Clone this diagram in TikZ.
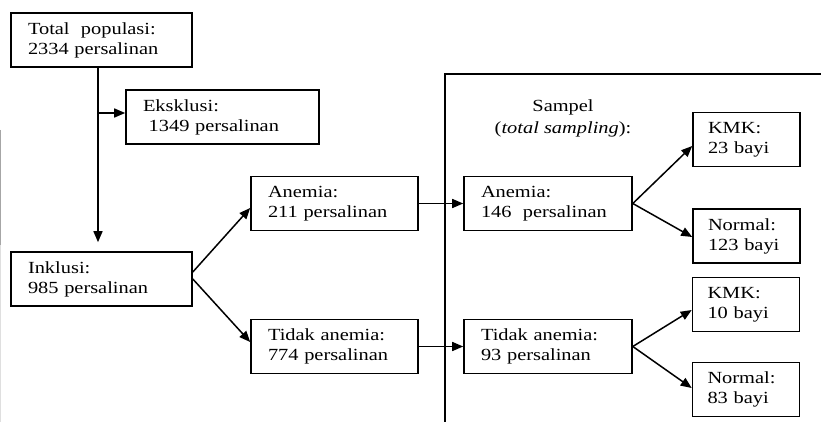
\documentclass[tikz,border=0pt]{standalone}
\usepackage{fontspec}
\setmainfont{Liberation Serif}[FakeStretch=1.2]
\usetikzlibrary{arrows.meta}
\tikzset{
  box/.style={draw, line width=1.6pt, align=left, inner xsep=17pt, inner ysep=0pt,
    minimum height=54pt, font=\fontsize{17}{20}\selectfont},
  sbox/.style={box, inner xsep=15pt, text width=77pt},
  arr/.style={line width=1.5pt, -{Triangle[length=11pt,width=9pt]}},
  frame/.style={line width=1.6pt}
}
\begin{document}
\begin{tikzpicture}[x=1pt,y=-1pt]
\useasboundingbox (0,0) rectangle (821,422);
% faint scan edge on the left
\draw[gray!70, line width=1pt] (0.5,130) -- (0.5,245);
\draw[gray!25, line width=0.8pt] (0.5,245) -- (0.5,422);
% big frame
\coordinate (fbl) at (445,422);
\coordinate (ftl) at (445,74);
\coordinate (ftr) at (821,74);
\draw[frame] (fbl) -- (ftl) -- (ftr);
% nodes
\node[box, text width=147pt] (total) at (101.5,40) {Total\ \ populasi:\\2334 persalinan};
\node[box, text width=159pt] (eks) at (222.5,117) {Eksklusi:\\ \ 1349 persalinan};
\node[box, text width=147pt] (inkl) at (101.5,279) {Inklusi:\\985 persalinan};
\node[box, text width=133pt] (anem) at (334.5,203.5) {Anemia:\\211 persalinan};
\node[box, text width=133pt] (tidak) at (334.5,346.5) {Tidak anemia:\\774 persalinan};
\node[box, text width=134pt] (sanem) at (548,203.5) {Anemia:\\146\ \ persalinan};
\node[box, text width=134pt] (stidak) at (548,346.5) {Tidak anemia:\\93 persalinan};
\node[sbox] (kmka) at (746.5,139.5) {KMK:\\23 bayi};
\node[sbox] (norma) at (746.5,236) {Normal:\\123 bayi};
\node[sbox] (kmkb) at (746,304.5) {KMK:\\10 bayi};
\node[sbox] (normb) at (746,389.5) {Normal:\\83 bayi};
\node[align=center, font=\fontsize{17}{22}\selectfont] (sampel) at (563,118) {Sampel\\(\textit{total sampling}):};
% connectors
\coordinate (v0) at ([xshift=-3.5pt]total.south);
\draw[arr] (v0) -- ([xshift=-3.5pt,yshift=9pt]inkl.north);
\draw[arr] ([yshift=4pt]eks.west -| v0) -- ([yshift=4pt]eks.west);
\draw[arr] ([yshift=7pt]inkl.east) -- ([yshift=-4.5pt]anem.west);
\draw[arr] (inkl.east) -- ([yshift=4.5pt]tidak.west);
\draw[arr] (anem.east) -- (sanem.west);
\draw[arr] (tidak.east) -- (stidak.west);
\draw[arr] (sanem.east) -- ([yshift=-6.5pt]kmka.west);
\draw[arr] (sanem.east) -- ([yshift=-1pt]norma.west);
\draw[arr] (stidak.east) -- ([yshift=-5.5pt]kmkb.west);
\draw[arr] (stidak.east) -- ([yshift=1.5pt]normb.west);
\end{tikzpicture}
\end{document}
